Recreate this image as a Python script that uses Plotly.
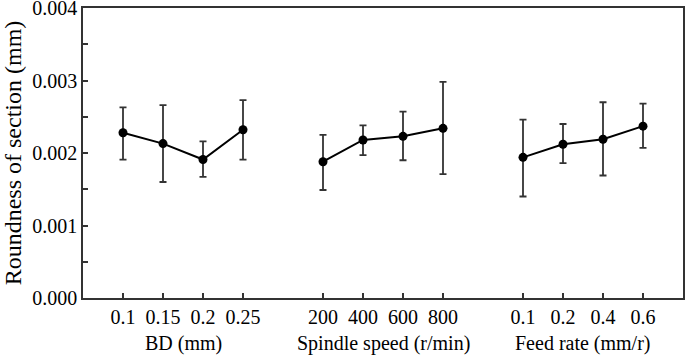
import plotly.graph_objects as go

groups = ["BD (mm)", "Spindle speed (r/min)", "Feed rate (mm/r)"]
tick_labels = [["0.1", "0.15", "0.2", "0.25"],
               ["200", "400", "600", "800"],
               ["0.1", "0.2", "0.4", "0.6"]]
means = [[0.00228, 0.00213, 0.00191, 0.00232],
         [0.00188, 0.00218, 0.00223, 0.00234],
         [0.00194, 0.00212, 0.00219, 0.00237]]
upper = [[0.00263, 0.00266, 0.00216, 0.00273],
         [0.00225, 0.00238, 0.00257, 0.00298],
         [0.00246, 0.00240, 0.00270, 0.00268]]
lower = [[0.00191, 0.00160, 0.00167, 0.00191],
         [0.00149, 0.00197, 0.00190, 0.00171],
         [0.00140, 0.00186, 0.00169, 0.00207]]

FONT = "Liberation Serif"
fig = go.Figure()
tickvals, ticktext = [], []
for g in range(3):
    xs = [g * 5 + i for i in range(4)]
    tickvals += xs
    ticktext += tick_labels[g]
    fig.add_trace(go.Scatter(
        x=xs, y=means[g], mode="lines+markers",
        line=dict(color="black", width=2),
        marker=dict(color="black", size=9),
        error_y=dict(type="data", symmetric=False,
                     array=[u - m for u, m in zip(upper[g], means[g])],
                     arrayminus=[m - l for m, l in zip(means[g], lower[g])],
                     color="#333333", thickness=1.8, width=3.5),
        showlegend=False))
    fig.add_annotation(x=xs[0] + 1.5, y=0, xref="x", yref="paper",
                       text=groups[g], showarrow=False, yanchor="top",
                       yshift=-32,
                       font=dict(family=FONT, size=20, color="black"))

fig.update_layout(
    width=685, height=355,
    margin=dict(l=83, r=2, t=8, b=57),
    plot_bgcolor="white", paper_bgcolor="white",
    font=dict(family=FONT, size=20, color="black"),
    xaxis=dict(range=[-1, 14], tickvals=tickvals, ticktext=ticktext,
               automargin=False,
               showgrid=False, zeroline=False, showline=True, mirror=True,
               linecolor="#333333", linewidth=1.5, ticks="inside",
               ticklen=5, tickcolor="#333333", tickwidth=1.5),
    yaxis=dict(range=[0, 0.004], tickvals=[0, 0.001, 0.002, 0.003, 0.004],
               automargin=False, ticklabeloverflow="allow",
               tickformat=".3f", showgrid=False, zeroline=False,
               showline=True, mirror=True, linecolor="#333333", linewidth=1.5,
               ticks="inside", ticklen=5, tickcolor="#333333", tickwidth=1.5,
               minor=dict(tickvals=[0.0005, 0.0015, 0.0025, 0.0035],
                          ticks="inside", ticklen=5, tickcolor="#333333",
                          tickwidth=1.5),
               title=dict(text="Roundness of section (mm)", standoff=6)),
)
fig.write_html("out.html", config={"displayModeBar": False},
               post_script="document.body.style.margin='0';document.body.style.overflow='hidden';")
